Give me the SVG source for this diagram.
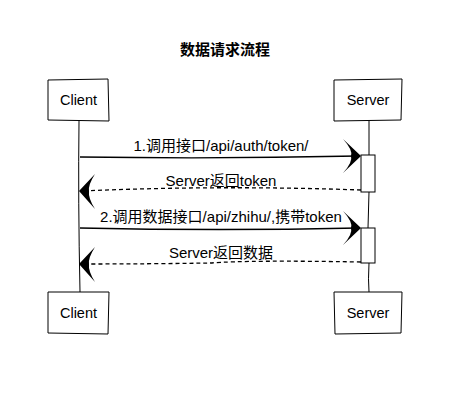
<svg xmlns="http://www.w3.org/2000/svg" width="465" height="404" viewBox="0 0 465 404">
<style>
.box{fill:#fff;stroke:#000;stroke-width:1}
.life{fill:none;stroke:#000;stroke-width:1}
.msg{fill:none;stroke:#000;stroke-width:1.3}
.dash{fill:none;stroke:#000;stroke-width:1.3;stroke-dasharray:4 3}
.head{fill:#000;stroke:none}
.t{font-family:"Liberation Sans","Noto Sans CJK SC",sans-serif;font-size:15px;fill:#000;text-anchor:middle}
.n{font-family:"Liberation Sans","Noto Sans CJK SC",sans-serif;font-size:14.5px;fill:#000;text-anchor:middle}
.title{font-family:"Liberation Sans","Noto Sans CJK SC",sans-serif;font-size:15px;font-weight:bold;fill:#000;text-anchor:middle}
</style>
<rect width="465" height="404" fill="#fff"/>
<text class="title" x="225" y="55">数据请求流程</text>
<g id="lifelines">
<path class="life" d="M79,121 Q78,200 80,292"/>
<path class="life" d="M369,121 L369,155 M369,192 L368,228 M369,263 Q368,280 369,292"/>
</g>
<g id="client-top">
<path class="box" d="M48,80 L108,79 L109,121 L48,120 Z"/>
<text class="n" x="78.5" y="105">Client</text>
</g>
<g id="server-top">
<path class="box" d="M334,80 L402,79 L401,120 L334,121 Z"/>
<text class="n" x="368" y="105">Server</text>
</g>
<g id="client-bottom">
<path class="box" d="M48,292 L109,292 L108,334 L48,333 Z"/>
<text class="n" x="78.5" y="318">Client</text>
</g>
<g id="server-bottom">
<path class="box" d="M334,292 L402,292 L401,333 L335,334 Z"/>
<text class="n" x="368" y="318">Server</text>
</g>
<g id="activation1">
<rect class="box" x="361" y="155" width="14" height="37"/>
</g>
<g id="activation2">
<rect class="box" x="361" y="228" width="14" height="35"/>
</g>
<g id="connectors">
<path class="msg" d="M80,157 Q220,159 358,156"/>
<path class="head" d="M361,156 L343,139 Q353,150 351,156 Q353,162 343,173 Z"/>
<text class="t" x="221" y="151">1.调用接口/api/auth/token/</text>
<path class="dash" d="M361,190 Q220,185 82,191"/>
<path class="head" d="M79,191 L95,174 Q88,185 89,191 Q88,198 95,209 Z"/>
<text class="t" x="221" y="186">Server返回token</text>
<path class="msg" d="M80,228 Q220,231 358,228"/>
<path class="head" d="M361,228 L343,211 Q353,222 351,228 Q353,234 343,245 Z"/>
<text class="t" x="221" y="222">2.调用数据接口/api/zhihu/,携带token</text>
<path class="dash" d="M361,262 Q250,260 210,263 Q150,264 82,264"/>
<path class="head" d="M79,264 L95,247 Q88,258 89,264 Q88,271 95,282 Z"/>
<text class="t" x="221" y="258">Server返回数据</text>
</g>
</svg>
